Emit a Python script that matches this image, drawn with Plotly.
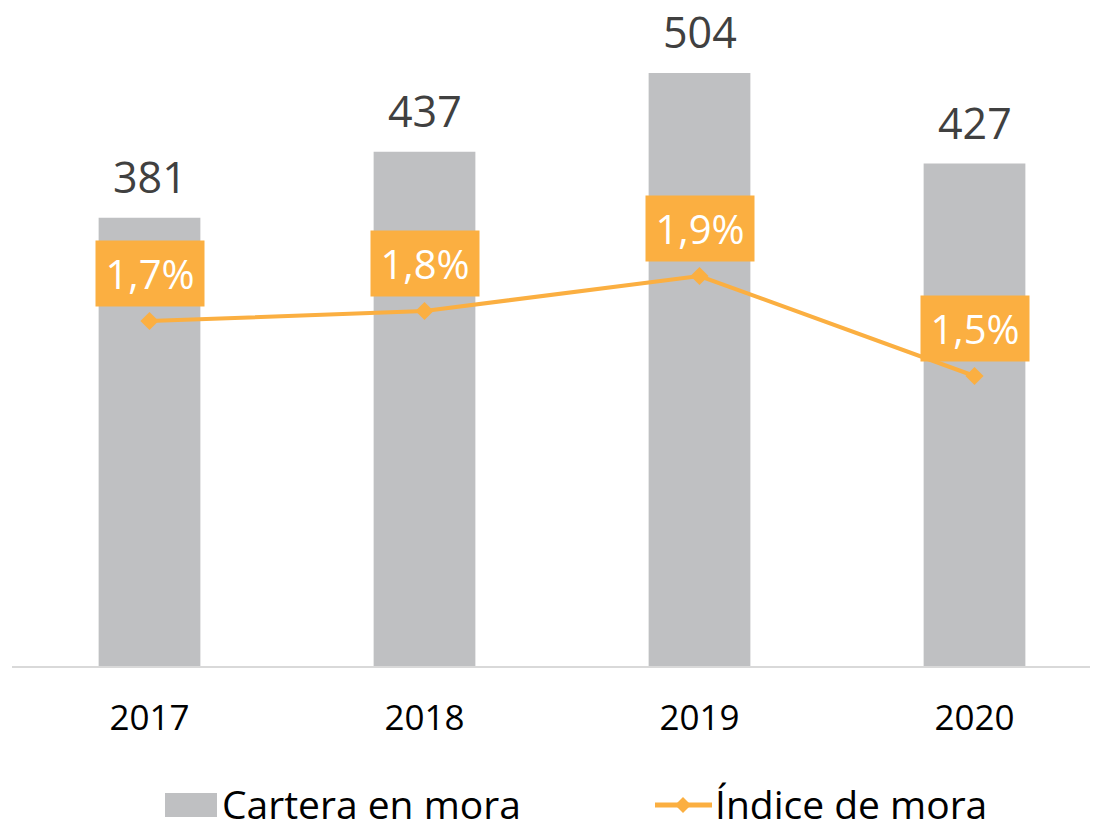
import plotly.graph_objects as go

years = ["2017", "2018", "2019", "2020"]
cartera = [381, 437, 504, 427]
indice = [1.72, 1.76, 1.90, 1.50]
indice_labels = ["1,7%", "1,8%", "1,9%", "1,5%"]
legend_names = ["Cartera en mora", "Índice de mora"]

ORANGE = "#FBAF41"
GRAY = "#BFC0C2"
FONT = "Open Sans"

W, H = 1098, 821
ML, MR, MT, MB = 4, 16, 12, 163
PW, PH = W - ML - MR, H - MT - MB
OFF = 8  # page body offset


def px(xs):
    return (xs - OFF - ML) / PW


def py(ys):
    return (H - MB - (ys - OFF)) / PH


xi = list(range(len(years)))

fig = go.Figure()
fig.add_trace(go.Bar(
    x=xi, y=cartera, name=legend_names[0],
    marker=dict(color=GRAY, line=dict(width=0)), width=0.37, showlegend=False,
))
fig.add_trace(go.Scatter(
    x=xi, y=indice, name=legend_names[1], yaxis="y2",
    mode="lines+markers",
    line=dict(color=ORANGE, width=4),
    marker=dict(symbol="diamond", size=14, color=ORANGE),
    showlegend=False,
))

for i, v in zip(xi, cartera):
    fig.add_annotation(x=i, y=v, xref="x", yref="y", text=str(v),
                       showarrow=False, yanchor="bottom", yshift=10,
                       font=dict(family=FONT, size=43, color="#404040"))

for i, v, lab in zip(xi, indice, indice_labels):
    fig.add_annotation(x=i, y=v, xref="x", yref="y2", text=lab,
                       showarrow=False, yanchor="middle", yshift=48,
                       bgcolor=ORANGE, borderpad=7, width=94, height=51,
                       font=dict(family=FONT, size=40, color="white"))

# custom legend
LY = 805
fig.add_shape(type="rect", xref="paper", yref="paper",
              x0=px(165), x1=px(217), y0=py(817), y1=py(793),
              fillcolor=GRAY, line=dict(width=0), layer="above")
fig.add_shape(type="line", xref="paper", yref="paper",
              x0=px(655), x1=px(712), y0=py(LY), y1=py(LY),
              line=dict(color=ORANGE, width=5), layer="above")
cx, r = 683, 8
fig.add_shape(type="path", xref="paper", yref="paper",
              path=f"M {px(cx - r)},{py(LY)} L {px(cx)},{py(LY - r)} L {px(cx + r)},{py(LY)} L {px(cx)},{py(LY + r)} Z",
              fillcolor=ORANGE, line=dict(width=0), layer="above")
fig.add_annotation(x=px(220), y=py(LY - 2), xref="paper", yref="paper",
                   text=legend_names[0], showarrow=False, xanchor="left", yanchor="middle",
                   font=dict(family=FONT, size=39, color="#000000"))
fig.add_annotation(x=px(713), y=py(LY - 2), xref="paper", yref="paper",
                   text=legend_names[1], showarrow=False, xanchor="left", yanchor="middle",
                   font=dict(family=FONT, size=39, color="#000000"))

fig.update_layout(
    width=W, height=H,
    margin=dict(l=ML, r=MR, t=MT, b=MB),
    plot_bgcolor="white", paper_bgcolor="white",
    font=dict(family=FONT, color="#000000"),
    showlegend=False,
    xaxis=dict(range=[-0.5, 3.42], showgrid=False, showline=True, linecolor="#D9D9D9",
               linewidth=2, ticks="", tickmode="array", tickvals=xi, ticktext=years,
               tickfont=dict(family=FONT, size=35, color="#000000"),
               ticklabelstandoff=20, zeroline=False),
    yaxis=dict(range=[0, PH / 1.1766], visible=False, showgrid=False),
    yaxis2=dict(range=[0.34, 0.34 + PH / 250], overlaying="y", side="right",
                visible=False, showgrid=False),
)

fig.write_html("out.html")
